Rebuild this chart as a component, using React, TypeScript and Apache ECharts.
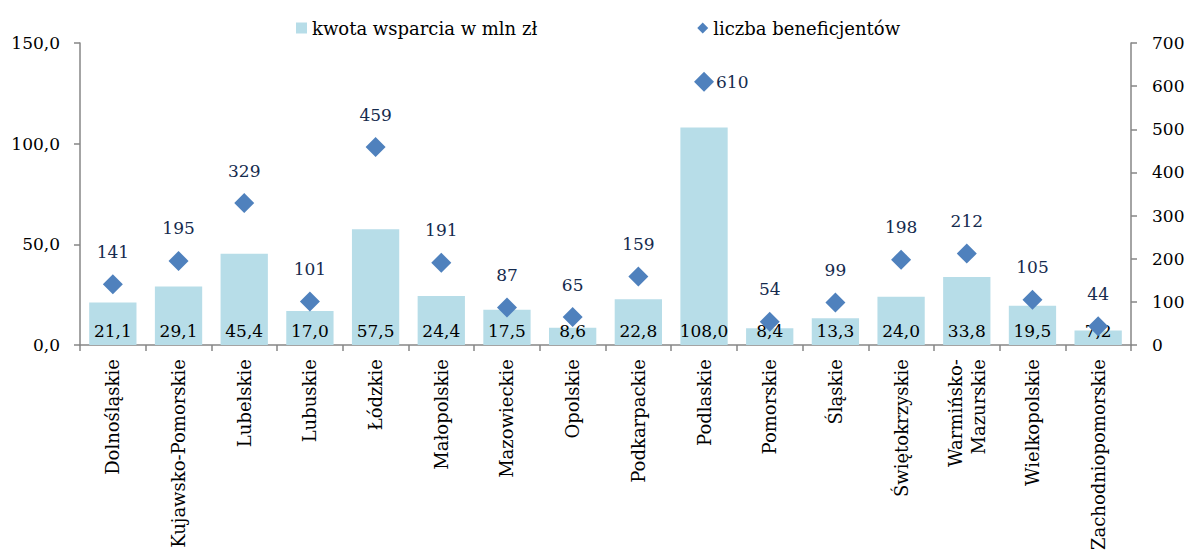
import React, { useEffect, useRef } from "react";
import * as echarts from "echarts";

const categories = [
  "Dolnośląskie",
  "Kujawsko-Pomorskie",
  "Lubelskie",
  "Lubuskie",
  "Łódzkie",
  "Małopolskie",
  "Mazowieckie",
  "Opolskie",
  "Podkarpackie",
  "Podlaskie",
  "Pomorskie",
  "Śląskie",
  "Świętokrzyskie",
  "Warmińsko-\nMazurskie",
  "Wielkopolskie",
  "Zachodniopomorskie",
];
const kwota = [21.1, 29.1, 45.4, 17.0, 57.5, 24.4, 17.5, 8.6, 22.8, 108.0, 8.4, 13.3, 24.0, 33.8, 19.5, 7.2];
const beneficjenci = [141, 195, 329, 101, 459, 191, 87, 65, 159, 610, 54, 99, 198, 212, 105, 44];
const leftTicks = { min: 0, max: 150, interval: 50 };
const rightTicks = { min: 0, max: 700, interval: 100 };
const seriesNames = ["kwota wsparcia w mln zł", "liczba beneficjentów"];

const FONT = "DejaVu Serif";
const AXIS_COLOR = "#868686";

export default function App() {
  const ref = useRef<HTMLDivElement>(null);
  useEffect(() => {
    if (!ref.current) return;
    const chart = echarts.init(ref.current, undefined, { renderer: "svg" });
    const maxB = Math.max(...beneficjenci);
    chart.setOption({
      animation: false,
      textStyle: { fontFamily: FONT },
      legend: {
        top: 14,
        left: 291,
        itemGap: 160,
        itemWidth: 11,
        itemHeight: 11,
        textStyle: { fontFamily: FONT, fontSize: 18, color: "#000" },
        data: [
          { name: seriesNames[0], icon: "rect" },
          { name: seriesNames[1], icon: "diamond" },
        ],
      },
      grid: { left: 80, right: 58, top: 43, bottom: 204, containLabel: false },
      xAxis: {
        type: "category",
        data: categories,
        boundaryGap: true,
        axisLine: { lineStyle: { color: AXIS_COLOR, width: 1.5 } },
        axisTick: { show: true, length: 6, alignWithLabel: false, lineStyle: { color: AXIS_COLOR, width: 1.5 } },
        axisLabel: {
          interval: 0,
          rotate: 90,
          margin: 14,
          fontFamily: FONT,
          fontSize: 18,
          color: "#000",
          lineHeight: 23,
        },
      },
      yAxis: [
        {
          type: "value",
          min: leftTicks.min,
          max: leftTicks.max,
          interval: leftTicks.interval,
          splitLine: { show: false },
          axisLine: { show: true, lineStyle: { color: AXIS_COLOR, width: 1.5 } },
          axisTick: { show: true, length: 6, lineStyle: { color: AXIS_COLOR, width: 1.5 } },
          axisLabel: {
            margin: 20,
            fontFamily: FONT,
            fontSize: 17,
            color: "#000",
            formatter: (v: number) => v.toFixed(1).replace(".", ","),
          },
        },
        {
          type: "value",
          position: "right",
          min: rightTicks.min,
          max: rightTicks.max,
          interval: rightTicks.interval,
          splitLine: { show: false },
          axisLine: { show: true, lineStyle: { color: AXIS_COLOR, width: 1.5 } },
          axisTick: { show: true, length: 6, lineStyle: { color: AXIS_COLOR, width: 1.5 } },
          axisLabel: {
            margin: 21,
            fontFamily: FONT,
            fontSize: 17,
            color: "#000",
          },
        },
      ],
      series: [
        {
          name: seriesNames[0],
          type: "bar",
          yAxisIndex: 0,
          data: kwota,
          barCategoryGap: "28%",
          itemStyle: { color: "#B7DDE8" },
          label: {
            show: true,
            position: "insideBottom",
            distance: 6,
            fontFamily: FONT,
            fontSize: 17,
            color: "#000",
            formatter: (p: any) => Number(p.value).toFixed(1).replace(".", ","),
          },
        },
        {
          name: seriesNames[1],
          type: "scatter",
          yAxisIndex: 1,
          symbol: "diamond",
          symbolSize: 20,
          itemStyle: { color: "#4F81BD", opacity: 1 },
          data: beneficjenci.map((v) =>
            v === maxB ? { value: v, label: { position: "right", distance: 2 } } : v
          ),
          label: {
            show: true,
            position: "top",
            distance: 14,
            fontFamily: FONT,
            fontSize: 17,
            color: "#152B4E",
            opacity: 1,
            formatter: (p: any) => String(p.value),
          },
          z: 5,
        },
      ],
    });
    return () => chart.dispose();
  }, []);
  return (
    <div
      ref={ref}
      style={{ position: "fixed", left: 0, top: 0, width: 1189, height: 553, background: "#fff" }}
    />
  );
}
